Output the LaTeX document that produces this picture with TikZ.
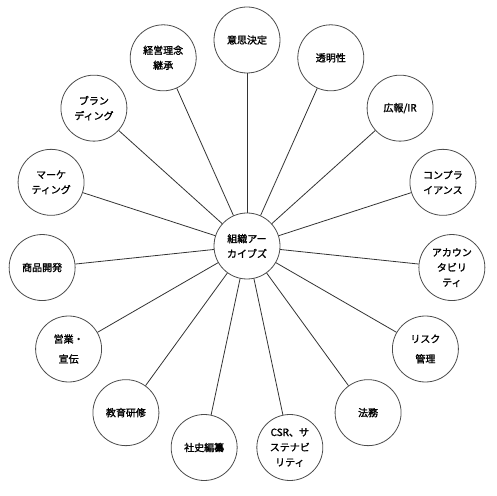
\documentclass[tikz,border=0pt]{standalone}
\usepackage{fontspec}
\usetikzlibrary{calc}
\setmainfont{Noto Sans CJK JP}[AutoFakeBold=1.5]
\begin{document}
\begin{tikzpicture}[x=1pt,y=1pt,
  bubble/.style={circle,draw=black!70,line width=0.8pt,minimum size=66pt,inner sep=0pt,align=center,font=\bfseries\fontsize{10}{15}\selectfont,fill=white},
  spoke/.style={draw=black!80,line width=0.8pt}]
\useasboundingbox (0,0) rectangle (497,495);
\coordinate (O) at (247,249);
\node[bubble] (c) at (O) {組織アー\\カイブズ};
\def\R{206}
\node[bubble] (n0) at ($(O)+(90:\R)$) {意思決定};
\node[bubble] (n1) at ($(O)+(66:\R)$) {透明性};
\node[bubble] (n2) at ($(O)+(42:\R)$) {広報/IR};
\node[bubble] (n3) at ($(O)+(18:\R)$) {コンプラ\\イアンス};
\node[bubble] (n4) at ($(O)+(-6:\R)$) {アカウン\\タビリ\\ティ};
\node[bubble] (n5) at ($(O)+(-30:\R)$) {リスク\\[5pt]管理};
\node[bubble] (n6) at ($(O)+(-54:\R)$) {法務};
\node[bubble] (n7) at ($(O)+(-78:\R)$) {CSR、サ\\ステナビ\\リティ};
\node[bubble] (n8) at ($(O)+(-102:\R)$) {社史編纂};
\node[bubble] (n9) at ($(O)+(-126:\R)$) {教育研修};
\node[bubble] (n10) at ($(O)+(-150:\R)$) {営業・\\[5pt]宣伝};
\node[bubble] (n11) at ($(O)+(-174:\R)$) {商品開発};
\node[bubble] (n12) at ($(O)+(162:\R)$) {マーケ\\ティング};
\node[bubble] (n13) at ($(O)+(138:\R)$) {ブラン\\ディング};
\node[bubble] (n14) at ($(O)+(114:\R)$) {経営理念\\継承};
\foreach \i in {0,...,14} {\draw[spoke] (c) -- (n\i);}
\end{tikzpicture}
\end{document}
